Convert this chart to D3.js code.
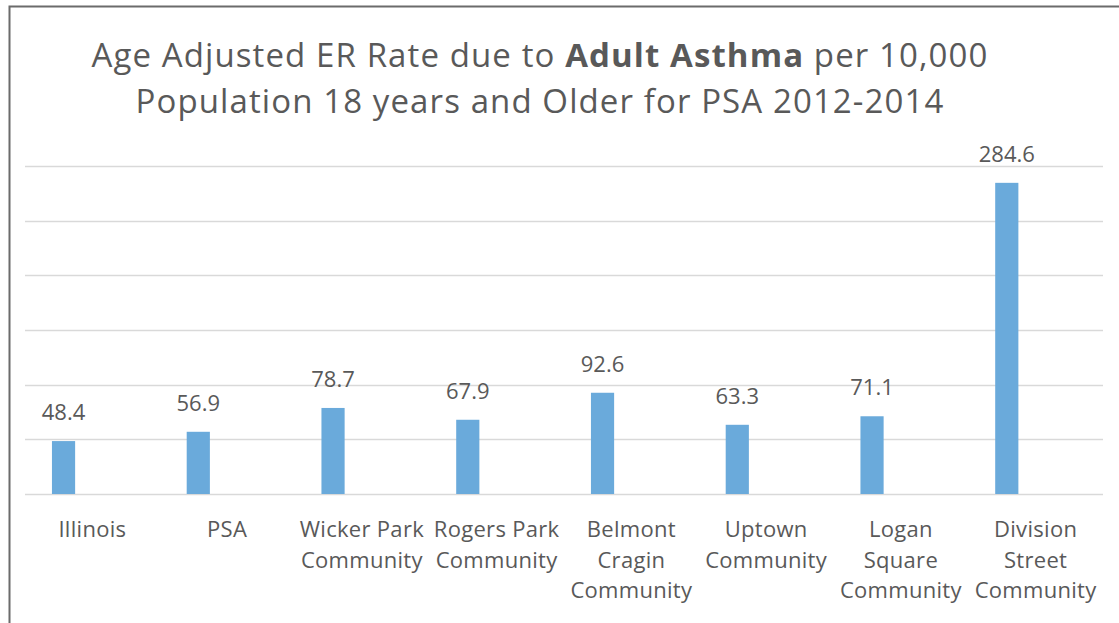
<!DOCTYPE html>
<html>
<head>
<meta charset="utf-8">
<script src="https://cdn.jsdelivr.net/npm/d3@7"></script>
<style>
  body{margin:0;background:#fff;}
  svg text{font-family:"Open Sans",Lato,sans-serif;fill:#595959;}
</style>
</head>
<body>
<div id="chart"></div>
<script>
// categories (line breaks as in the picture) and values
var categories = ["Illinois","PSA","Wicker Park\nCommunity","Rogers Park\nCommunity",
                  "Belmont\nCragin\nCommunity","Uptown\nCommunity","Logan\nSquare\nCommunity",
                  "Division\nStreet\nCommunity"];
var rates = [48.4, 56.9, 78.7, 67.9, 92.6, 63.3, 71.1, 284.6];
var yTicks = [0, 50, 100, 150, 200, 250, 300];

var W = 1119, H = 623;
var svg = d3.select("#chart").append("svg")
  .attr("width", W)
  .attr("height", H);

// frame (left + top only visible)
svg.append("path")
  .attr("d", "M9.5," + H + "V6.5H" + W)
  .attr("fill", "none")
  .attr("stroke", "#6b6b6b")
  .attr("stroke-width", 2);

// title
var title = svg.append("text")
  .attr("text-anchor", "middle")
  .style("font-size", "33px")
  .style("letter-spacing", "1.1px");
var t1 = title.append("tspan").attr("x", 540).attr("y", 67);
t1.append("tspan").text("Age Adjusted ER Rate due to ");
t1.append("tspan").style("font-weight", "bold").text("Adult Asthma");
t1.append("tspan").text(" per 10,000");
title.append("tspan").attr("x", 540).attr("y", 113)
  .text("Population 18 years and Older for PSA 2012-2014");

var x = d3.scaleBand().domain(categories).range([25, 1103]).padding(0);
var y = d3.scaleLinear().domain([0, 300]).range([494, 166]);

// gridlines
svg.append("g").selectAll("line")
  .data(yTicks)
  .enter().append("line")
  .attr("x1", 25).attr("x2", 1103)
  .attr("y1", function(d){ return Math.round(y(d)) + 0.5; })
  .attr("y2", function(d){ return Math.round(y(d)) + 0.5; })
  .attr("stroke", "#d9d9d9")
  .attr("stroke-width", 1.5);

var bw = x.bandwidth();
// bars
svg.append("g").selectAll("rect")
  .data(rates)
  .enter().append("rect")
  .attr("x", function(d, i){ return x(categories[i]) + bw * 0.2; })
  .attr("width", bw * 0.172)
  .attr("y", function(d){ return y(d); })
  .attr("height", function(d){ return y(0) - y(d); })
  .attr("fill", "#6aaadb");

// value labels
svg.append("g").selectAll("text")
  .data(rates)
  .enter().append("text")
  .attr("text-anchor", "middle")
  .attr("x", function(d, i){ return x(categories[i]) + bw * 0.2 + bw * 0.086; })
  .attr("y", function(d){ return y(d) - 21; })
  .style("font-size", "22px")
  .text(function(d){ return d.toFixed(1); });

// category labels
var lab = svg.append("g").selectAll("text")
  .data(categories)
  .enter().append("text")
  .attr("text-anchor", "middle")
  .style("font-size", "22px")
  .style("letter-spacing", "0.3px");
lab.selectAll("tspan")
  .data(function(d){ return d.split("\n").map(function(s){ return {s: s, c: d}; }); })
  .enter().append("tspan")
  .attr("x", function(d){ return x(d.c) + bw / 2; })
  .attr("y", function(d, i){ return 537 + i * 30.5; })
  .text(function(d){ return d.s; });
</script>
</body>
</html>
